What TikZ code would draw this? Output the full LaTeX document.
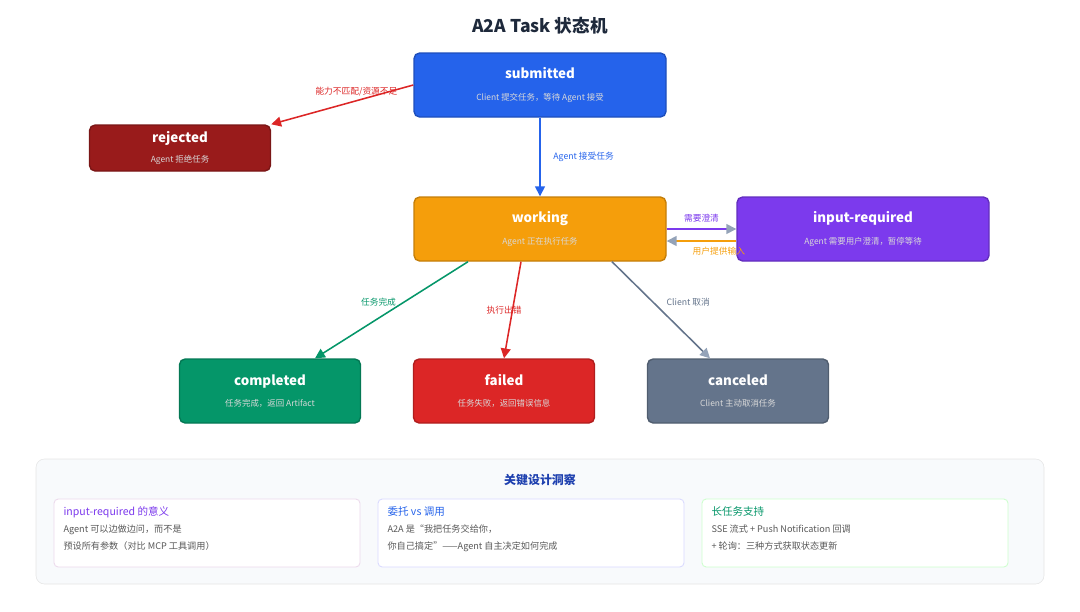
\documentclass[tikz,border=0pt]{standalone}
\usepackage{fontspec}
\setmainfont{Noto Sans CJK SC}
\usetikzlibrary{arrows.meta,positioning}
\definecolor{myblue}{HTML}{2563EB}
\definecolor{mydarkred}{HTML}{991B1B}
\definecolor{myorange}{HTML}{F59E0B}
\definecolor{mypurple}{HTML}{7C3AED}
\definecolor{mygreen}{HTML}{059669}
\definecolor{myred}{HTML}{DC2626}
\definecolor{mygray}{HTML}{64748B}
\definecolor{mytip}{HTML}{94A3B8}
\definecolor{mytext}{HTML}{1E293B}
\definecolor{mypanel}{HTML}{F8FAFC}
\definecolor{mynavy}{HTML}{1E40AF}
\newcommand{\substate}[1]{{\mdseries\fontsize{6}{8}\selectfont\color{white!85!black}#1}}

\begin{document}
\begin{tikzpicture}[x=0.025cm,y=-0.025cm,
  state/.style={draw=#1!80!black,fill=#1,rounded corners=4pt,line width=1pt,
    minimum width=181*0.025cm,minimum height=64*0.025cm,text=white,align=center,
    font=\bfseries\fontsize{9.5}{13}\selectfont},
  wide/.style={minimum width=252*0.025cm},
  trans/.style={line width=1.1pt,-{Triangle[length=7pt,width=7pt]}},
  greytip/.style={line width=1.1pt,-{Triangle[length=7pt,width=7pt,fill=mytip,color=mytip]}},
  lbl/.style={font=\fontsize{6.2}{8}\selectfont,inner sep=1pt},
  card/.style={draw=#1,fill=white,rounded corners=3pt,line width=0.6pt,
    minimum width=306*0.025cm,minimum height=68*0.025cm},
  cardtext/.style={anchor=north west,align=left,text=black!65,
    font=\fontsize{6.5}{12}\selectfont}]

  \useasboundingbox (0,0) rectangle (1080,612);

  \node[font=\bfseries\fontsize{12.5}{15}\selectfont,text=mytext] (title) at (540,26) {A2A Task 状态机};

  % states
  \node[state=myblue,wide] (submitted) at (540,85)
    {submitted\\[2pt]\substate{Client 提交任务，等待 Agent 接受}};
  \node[state=mydarkred,minimum height=46*0.025cm] (rejected) at (180,148)
    {rejected\\[1pt]\substate{Agent 拒绝任务}};
  \node[state=myorange,wide] (working) at (540,229)
    {working\\[2pt]\substate{Agent 正在执行任务}};
  \node[state=mypurple,wide] (input) at (863,229)
    {input-required\\[2pt]\substate{Agent 需要用户澄清，暂停等待}};
  \node[state=mygreen] (completed) at (270,391)
    {completed\\[2pt]\substate{任务完成，返回 Artifact}};
  \node[state=myred] (failed) at (504,391)
    {failed\\[2pt]\substate{任务失败，返回错误信息}};
  \node[state=mygray] (canceled) at (738,391)
    {canceled\\[2pt]\substate{Client 主动取消任务}};

  % transitions
  \draw[trans,myred] (submitted.west) -- (rejected.north east)
    node[lbl,text=myred,pos=0.4,above=2pt] {能力不匹配/资源不足};
  \draw[trans,myblue] (submitted) -- (working)
    node[lbl,text=myblue,midway,right=8pt] {Agent 接受任务};
  \draw[greytip,mypurple] (working.east) -- (input.west)
    node[lbl,text=mypurple,midway,above=3pt] {需要澄清};
  \draw[greytip,myorange] ([yshift=-12*0.025cm]input.west) -- ([yshift=-12*0.025cm]working.east)
    node[lbl,text=myorange,pos=0.25,below=3pt] {用户提供输入};
  \draw[trans,mygreen] ([xshift=-72*0.025cm]working.south) -- ([xshift=45*0.025cm]completed.north)
    node[lbl,text=mygreen,pos=0.42,left=4pt] {任务完成};
  \draw[trans,myred] ([xshift=-19*0.025cm]working.south) -- (failed.north)
    node[lbl,text=myred,pos=0.5,left=-8pt] {执行出错};
  \draw[greytip,mygray] ([xshift=72*0.025cm]working.south) -- ([xshift=-28*0.025cm]canceled.north)
    node[lbl,text=mygray,pos=0.42,right=8pt] {Client 取消};

  % insight panel
  \node[draw=black!10,fill=mypanel,rounded corners=6pt,minimum width=1008*0.025cm,
    minimum height=125*0.025cm] (panel) at (540,521.5) {};
  \node[font=\bfseries\fontsize{8.5}{10}\selectfont,text=mynavy] (ptitle) at (540,480) {关键设计洞察};
  \node[card=violet!15] (card1) at (207,533) {};
  \node[card=blue!15] (card2) at (531,533) {};
  \node[card=green!20] (card3) at (855,533) {};
  \node[cardtext] (t1) at ([xshift=5*0.025cm,yshift=-3*0.025cm]card1.north west)
    {{\color{mypurple}\fontsize{7.5}{10}\selectfont input-required 的意义}\\Agent 可以边做边问，而不是\\预设所有参数（对比 MCP 工具调用）};
  \node[cardtext] (t2) at ([xshift=5*0.025cm,yshift=-3*0.025cm]card2.north west)
    {{\color{myblue}\fontsize{7.5}{10}\selectfont 委托 vs 调用}\\A2A 是“我把任务交给你，\\你自己搞定”——Agent 自主决定如何完成};
  \node[cardtext] (t3) at ([xshift=5*0.025cm,yshift=-3*0.025cm]card3.north west)
    {{\color{mygreen}\fontsize{7.5}{10}\selectfont 长任务支持}\\SSE 流式 + Push Notification 回调\\+ 轮询：三种方式获取状态更新};

\end{tikzpicture}
\end{document}
